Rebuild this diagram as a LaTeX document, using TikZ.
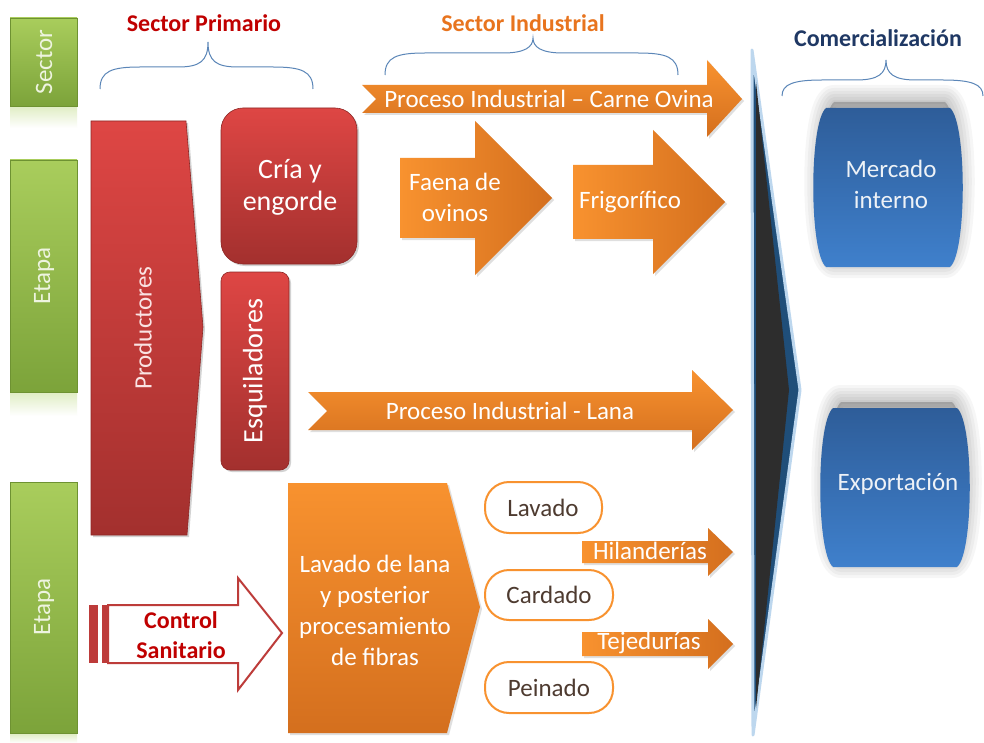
\documentclass[tikz,border=0pt]{standalone}
\usepackage{fontspec}
\setmainfont{Carlito}
\usetikzlibrary{shadows}
\definecolor{verdeA}{HTML}{A9CD5C}
\definecolor{verdeB}{HTML}{7CA33A}
\definecolor{verdeC}{HTML}{6E9232}
\definecolor{verdeT}{HTML}{EEF4E0}
\definecolor{rojoA}{HTML}{DE4644}
\definecolor{rojoB}{HTML}{A3302E}
\definecolor{rojoC}{HTML}{8E2725}
\definecolor{rojoT}{HTML}{C00000}
\definecolor{naranjaA}{HTML}{F8922F}
\definecolor{naranjaB}{HTML}{D46F1E}
\definecolor{naranjaT}{HTML}{E8741E}
\definecolor{azulA}{HTML}{2E5D99}
\definecolor{azulB}{HTML}{3F80CC}
\definecolor{navyC}{HTML}{1F4E79}
\definecolor{navyT}{HTML}{1F3864}
\definecolor{grisC}{HTML}{2D2D2D}
\definecolor{glowC}{HTML}{BDD7EE}
\definecolor{llaveC}{HTML}{5B86B8}
\definecolor{cafeT}{HTML}{4E3B30}

\begin{document}
\begin{tikzpicture}[x=1pt,y=-1pt,
  verde/.style={top color=verdeA, bottom color=verdeB, draw=verdeC, line width=.6},
  reflejo/.style={top color=verdeA!35, bottom color=white},
  rojo/.style={top color=rojoA, bottom color=rojoB, draw=rojoC, line width=.6,
    drop shadow={shadow xshift=2pt, shadow yshift=-2pt, opacity=.35}},
  naranja/.style={left color=naranjaA, right color=naranjaB,
    drop shadow={shadow xshift=2pt, shadow yshift=-2pt, opacity=.25}},
  naranjav/.style={top color=naranjaA, bottom color=naranjaB,
    drop shadow={shadow xshift=2pt, shadow yshift=-2pt, opacity=.25}},
  azul/.style={top color=azulA, bottom color=azulB},
  sombra/.style={draw=black, opacity=.035, line join=round},
  pastilla/.style={draw=naranjaA, line width=2, fill=white, rounded corners=24},
  llave/.style={draw=llaveC, line width=1},
  texto/.style={font=\fontsize{25}{31}\selectfont, align=center, inner sep=0},
  textoG/.style={font=\fontsize{28}{32}\selectfont, align=center, inner sep=0},
  titulo/.style={font=\bfseries\fontsize{24}{28}\selectfont, inner sep=0}]
  % arrow: x start, head start, tip, centre y, half body, half head
  \def\flecha#1#2#3#4#5#6{(#1,#4-#5) -- (#2,#4-#5) -- (#2,#4-#6) -- (#3,#4)
    -- (#2,#4+#6) -- (#2,#4+#5) -- (#1,#4+#5) -- cycle}
  % brace: left x, tip x, right x, end y, middle y, tip y
  \def\llave#1#2#3#4#5#6{(#1,#4) .. controls (#1,#5+4) and (#1+12,#5) .. (#1+40,#5)
    -- (#2-30,#5) .. controls (#2-8,#5) and (#2,#5-6) .. (#2,#6)
    .. controls (#2,#5-6) and (#2+8,#5) .. (#2+30,#5)
    -- (#3-40,#5) .. controls (#3-12,#5) and (#3,#5+4) .. (#3,#4)}
  % barrel: left x, right x, top y, bottom y
  \def\barril#1#2#3#4{(#1+13,#3) -- (#2-13,#3)
    .. controls (#2+4,#3+14) and (#2+4,#4-14) .. (#2-13,#4) -- (#1+13,#4)
    .. controls (#1-4,#4-14) and (#1-4,#3+14) .. (#1+13,#3) -- cycle}

  \useasboundingbox (0,0) rectangle (984,743);
  \fill[white] (0,0) rectangle (984,743);

  % etapas
  \fill[reflejo] (10,107) rectangle (77,128);
  \fill[reflejo] (10,393) rectangle (77,416);
  \fill[reflejo] (10,734) rectangle (77,743);
  \path[verde] (10,18) rectangle (77,106);
  \path[verde] (10,160) rectangle (77,392);
  \path[verde] (10,482) rectangle (77,733);
  \node[texto, text=verdeT, rotate=90] (sector) at (44,62) {Sector};
  \node[texto, text=verdeT, rotate=90] (etapaA) at (44,276) {Etapa};
  \node[texto, text=verdeT, rotate=90] (etapaB) at (44,607) {Etapa};

  % titulos y llaves
  \node[titulo, text=rojoT] (tPrim) at (204,23) {Sector Primario};
  \node[titulo, text=naranjaT] (tInd) at (523,23) {Sector Industrial};
  \node[titulo, text=navyT] (tCom) at (878,38) {Comercialización};
  \draw[llave] \llave{100}{208}{313}{89}{67}{42};
  \draw[llave] \llave{385}{533}{678}{75}{53}{38};
  \draw[llave] \llave{782}{886}{983}{96}{80}{60};

  % sector primario
  \path[rojo] (91,121) -- (186,121) -- (203,327) -- (187,535) -- (91,535) -- cycle;
  \path[rojo, rounded corners=22] (221,108) rectangle (357,264);
  \path[rojo, rounded corners=9] (221,272) rectangle (289,470);
  \node[texto, text=rojoA!15, rotate=90] (productores) at (143,328) {Productores};
  \node[textoG, text=white] (cria) at (290,187) {Cría y\\engorde};
  \node[textoG, text=white, rotate=90] (esquila) at (255,371) {Esquiladores};

  % sector industrial
  \path[naranjav] (362,85) -- (707,85) -- (707,60) -- (742,99) -- (707,137)
    -- (707,113) -- (362,113) -- (376,99) -- cycle;
  \path[naranja] \flecha{400}{475}{552}{198}{40}{77};
  \path[naranja] \flecha{573}{653}{725}{202}{37}{72};
  \path[naranjav] (308,392) -- (692,392) -- (692,370) -- (733,410) -- (692,450)
    -- (692,430) -- (308,430) -- (327,411) -- cycle;
  \node[texto, text=white] (carne) at (549,99) {Proceso Industrial -- Carne Ovina};
  \node[texto, text=white] (faena) at (455,197) {Faena de\\ovinos};
  \node[texto, text=white] (frigo) at (630,202) {Frigorífico};
  \node[texto, text=white] (lanaInd) at (510,411) {Proceso Industrial - Lana};

  % lana
  \path[naranjav] (288,483) -- (447,483) -- (480,607) -- (447,733) -- (288,733) -- cycle;
  \node[texto, text=white] (lavadoLana) at (375,610)
    {Lavado de lana\\y posterior\\procesamiento\\de fibras};
  \path[pastilla] (485,482) rectangle (602,533);
  \path[pastilla] (485,570) rectangle (613,620);
  \path[pastilla] (485,662) rectangle (613,713);
  \node[texto, text=cafeT] (lavado) at (543,508) {Lavado};
  \node[texto, text=cafeT] (cardado) at (549,595) {Cardado};
  \node[texto, text=cafeT] (peinado) at (549,688) {Peinado};
  \path[naranja] \flecha{582}{708}{733}{552}{11}{24};
  \path[naranja] \flecha{582}{708}{733}{644}{12}{25};
  \node[texto, text=white] (hilan) at (650,551) {Hilanderías};
  \node[texto, text=white] (tejed) at (649,643) {Tejedurías};

  % control sanitario
  \fill[rojoA!85!black] (89,605) rectangle (98,663);
  \fill[rojoA!85!black] (102,605) rectangle (108,663);
  \path[draw=rojoA!85!black, line width=2, fill=white] (108,605) -- (238,605) -- (238,578)
    -- (282,633) -- (238,690) -- (238,663) -- (108,663) -- cycle;
  \node[titulo, text=rojoT, align=center, font=\bfseries\fontsize{24}{30}\selectfont]
    (control) at (181,635) {Control\\Sanitario};

  % comercializacion
  \path[draw=glowC, line width=3, fill=navyC, line join=round]
    (752,50) -- (800,390) -- (753,735) -- cycle;
  \fill[grisC] (756,82) -- (789,390) -- (756,708) -- cycle;
  \foreach \w in {34,28,22,16,10,4}{
    \path[sombra, line width=\w] \barril{821}{958}{102}{261};
    \path[sombra, line width=\w] \barril{828}{965}{402}{561};
  }
  \fill[black, opacity=.2] \barril{821}{958}{102}{261};
  \fill[black, opacity=.2] \barril{828}{965}{402}{561};
  \path[azul] \barril{813}{963}{108}{267};
  \path[azul] \barril{820}{970}{408}{567};
  \node[texto, text=white!92!azulA] (mercado) at (891,184) {Mercado\\interno};
  \node[texto, text=white!92!azulA] (export) at (898,484) {Exportación};
\end{tikzpicture}
\end{document}
